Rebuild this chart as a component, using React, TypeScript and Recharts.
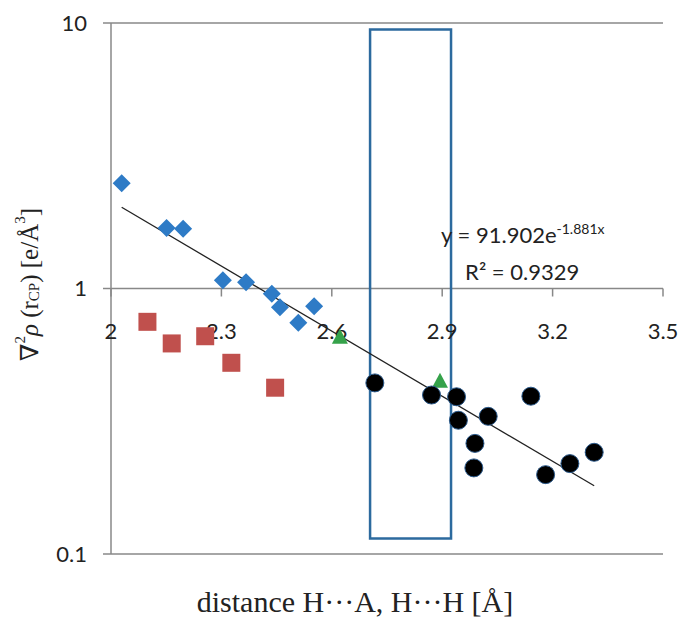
import {
  CartesianGrid,
  Label,
  ReferenceArea,
  ReferenceDot,
  ReferenceLine,
  Scatter,
  ScatterChart,
  XAxis,
  YAxis,
} from "recharts";

// values
const diamonds = [
  { x: 2.029, y: 2.49 },
  { x: 2.151, y: 1.69 },
  { x: 2.196, y: 1.68 },
  { x: 2.304, y: 1.075 },
  { x: 2.367, y: 1.056 },
  { x: 2.437, y: 0.955 },
  { x: 2.459, y: 0.85 },
  { x: 2.509, y: 0.743 },
  { x: 2.552, y: 0.858 },
];
const squares = [
  { x: 2.099, y: 0.749 },
  { x: 2.165, y: 0.621 },
  { x: 2.256, y: 0.661 },
  { x: 2.327, y: 0.525 },
  { x: 2.446, y: 0.423 },
];
const triangles = [
  { x: 2.622, y: 0.652 },
  { x: 2.894, y: 0.445 },
];
const circles = [
  { x: 2.717, y: 0.441 },
  { x: 2.871, y: 0.397 },
  { x: 2.939, y: 0.391 },
  { x: 2.944, y: 0.319 },
  { x: 3.025, y: 0.33 },
  { x: 2.989, y: 0.261 },
  { x: 2.986, y: 0.211 },
  { x: 3.141, y: 0.393 },
  { x: 3.181, y: 0.199 },
  { x: 3.247, y: 0.219 },
  { x: 3.313, y: 0.2416 },
];
const xTicks = [2, 2.3, 2.6, 2.9, 3.2, 3.5];
const yTicks = [0.1, 1, 10];

// exponential trendline as printed on the chart
const fitA = 91.902;
const fitB = -1.881;
const fitRange = [2.029, 3.313];
const trend = fitRange.map((x) => ({ x, y: fitA * Math.exp(fitB * x) }));

// highlighted window
const boxX = [2.704, 2.924];
const boxY = [0.1144, 9.45];

// where the equation text is anchored
const eqAt = { x: 2.897, y: 1.49 };

const GRID = "#888888";
const TICK_FONT = "Lato, 'Open Sans', sans-serif";
const SERIF = "'Liberation Serif', 'DejaVu Serif', serif";

const Diamond = (p: any) => (
  <polygon
    points={`${p.cx},${p.cy - 9} ${p.cx + 9},${p.cy} ${p.cx},${p.cy + 9} ${p.cx - 9},${p.cy}`}
    fill="#2E7BC6"
  />
);
const Square = (p: any) => <rect x={p.cx - 9} y={p.cy - 9} width={18} height={18} fill="#C0504D" />;
const Triangle = (p: any) => (
  <polygon
    points={`${p.cx},${p.cy - 9} ${p.cx + 8},${p.cy + 6} ${p.cx - 8},${p.cy + 6}`}
    fill="#35A24A"
  />
);
const Circle = (p: any) => <circle cx={p.cx} cy={p.cy} r={9} fill="#000" stroke="#2B5A8C" strokeWidth={1} />;

const XTick = (label: string) => (p: any) => (
  <g>
    <line x1={p.cx} y1={p.cy} x2={p.cx} y2={p.cy + 8} stroke={GRID} strokeWidth={1.5} />
    <text x={p.cx} y={p.cy + 50} textAnchor="middle" fontSize={22} fontFamily={TICK_FONT} fill="#222">
      {label}
    </text>
  </g>
);

const Equation = (p: any) => (
  <g fontFamily={TICK_FONT} fill="#222">
    <text x={p.cx} y={p.cy} fontSize={22}>
      y = 91.902e
      <tspan dy={-9} fontSize={14}>
        -1.881x
      </tspan>
    </text>
    <text x={p.cx + 24} y={p.cy + 37} fontSize={22}>
      R² = 0.9329
    </text>
  </g>
);

const YTitle = (p: any) => {
  const vb = p.viewBox;
  const cx = 29;
  const cy = vb.y + vb.height / 2 - 4;
  return (
    <text
      x={cx}
      y={cy}
      transform={`rotate(-90 ${cx} ${cy})`}
      textAnchor="middle"
      dominantBaseline="central"
      fontFamily={SERIF}
      fontSize={25}
      fill="#222"
    >
      ∇<tspan dy={-9} fontSize={15}>2</tspan>
      <tspan dy={9} fontStyle="italic">ρ</tspan> (r
      <tspan dy={5} fontSize={15}>CP</tspan>
      <tspan dy={-5}>) [e/Å</tspan>
      <tspan dy={-9} fontSize={15}>3</tspan>
      <tspan dy={9}>]</tspan>
    </text>
  );
};

const XTitle = (p: any) => {
  const vb = p.viewBox;
  return (
    <text x={355} y={vb.y + 58} textAnchor="middle" fontFamily={SERIF} fontSize={30} fill="#222">
      distance H···A, H···H [Å]
    </text>
  );
};

export default function App() {
  return (
    <div style={{ position: "absolute", left: 0, top: 0, background: "#fff" }}>
      <ScatterChart width={679} height={623} margin={{ top: 23, right: 16, bottom: 0, left: 0 }}>
        <CartesianGrid vertical={false} stroke={GRID} strokeWidth={1.5} />
        <XAxis
          type="number"
          dataKey="x"
          domain={[2, 3.5]}
          ticks={xTicks}
          allowDataOverflow
          height={69}
          axisLine={false}
          tickLine={false}
          tick={false}
        >
          <Label content={XTitle} />
        </XAxis>
        <YAxis
          type="number"
          dataKey="y"
          scale="log"
          domain={[0.1, 10]}
          ticks={yTicks}
          allowDataOverflow
          width={111}
          axisLine={{ stroke: GRID, strokeWidth: 1.5 }}
          tickLine={{ stroke: GRID, strokeWidth: 1.5 }}
          tickSize={8}
          tickMargin={16}
          tick={{ fontSize: 22, fontFamily: TICK_FONT, fill: "#222" }}
          tickFormatter={(v: number) => String(v)}
        >
          <Label content={YTitle} />
        </YAxis>
        {xTicks.map((t) => (
          <ReferenceDot key={t} x={t} y={1} r={0} shape={XTick(String(t))} />
        ))}
        <Scatter data={diamonds} shape={Diamond} isAnimationActive={false} />
        <Scatter data={squares} shape={Square} isAnimationActive={false} />
        <Scatter data={triangles} shape={Triangle} isAnimationActive={false} />
        <Scatter data={circles} shape={Circle} isAnimationActive={false} />
        <ReferenceLine segment={trend} stroke="#222" strokeWidth={1.3} />
        <ReferenceArea
          x1={boxX[0]}
          x2={boxX[1]}
          y1={boxY[0]}
          y2={boxY[1]}
          fill="none"
          fillOpacity={0}
          stroke="#2C6A9E"
          strokeWidth={2.5}
        />
        <ReferenceDot x={eqAt.x} y={eqAt.y} r={0} shape={Equation} />
      </ScatterChart>
    </div>
  );
}
